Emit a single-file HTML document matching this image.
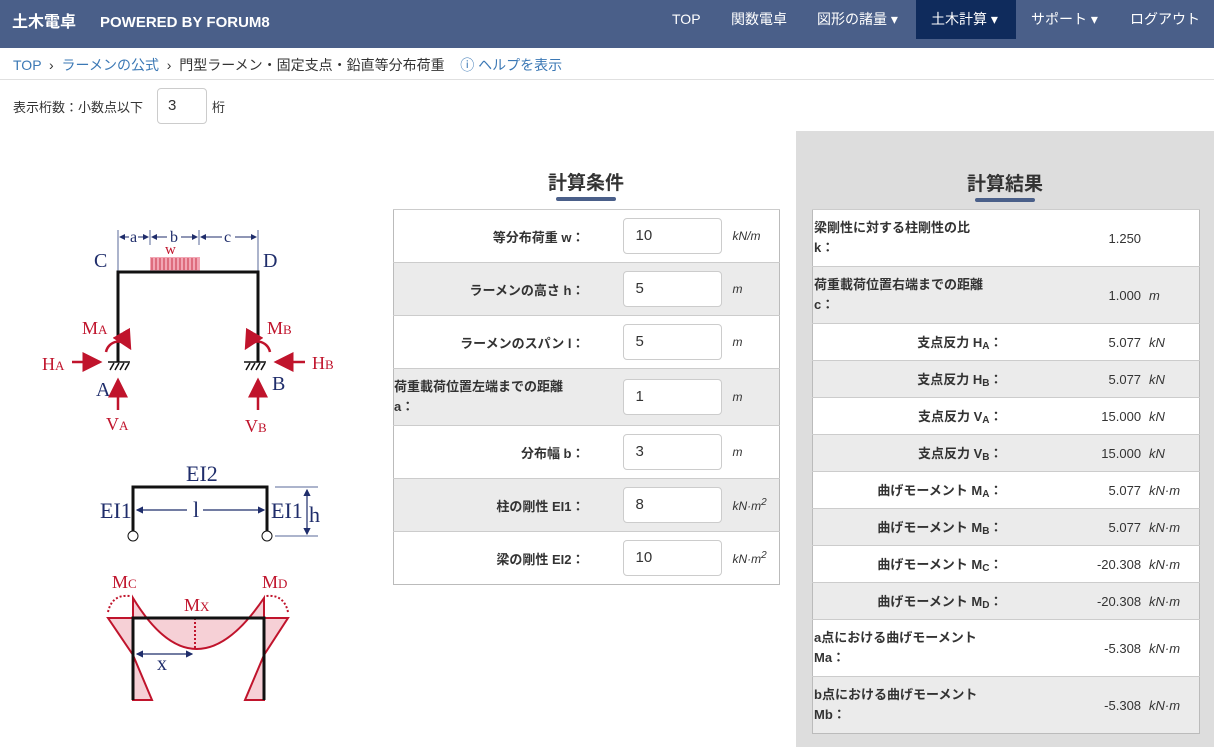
<!DOCTYPE html>
<html><head><meta charset="utf-8">
<style>
*{box-sizing:border-box;margin:0;padding:0}
body{width:1214px;height:747px;overflow:hidden;background:#fff;font-family:"Liberation Sans","Noto Sans CJK JP",sans-serif;color:#333;position:relative;font-size:14px}
.nav{position:absolute;left:0;top:0;width:1214px;height:48px;background:#4a5f89;color:#fff}
.nav span{position:absolute;top:0;line-height:38px;font-size:14px}
.brand{font-weight:bold;font-size:16px!important}
.bc{position:absolute;top:55px;left:13px;font-size:14px;color:#333}
.bc a{color:#3b78b5}
.hr{position:absolute;left:0;top:79px;width:1214px;height:1px;background:#e0e0e0}
.gray{position:absolute;left:796px;top:131px;width:418px;height:616px;background:#ddd}
.h2{position:absolute;font-size:19px;font-weight:bold;color:#333;text-align:center;width:120px}
.ul{position:absolute;height:4px;width:60px;background:#4a5f89;border-radius:2px}
table{position:absolute;border-collapse:collapse;font-size:13px}
td{border-top:1px solid #ccc;padding:0}
.t1{left:393px;top:209px;width:387px;border:1px solid #bbb}
.t1 td.l{text-align:right;font-weight:bold;padding-right:38px;width:229px}
.t1 td.i{width:110px}
.t1 .box{width:99px;height:36px;border:1px solid #ccc;border-radius:4px;background:#fff;padding-left:12px;line-height:34px;font-size:15px}
.t1 td.u{font-style:italic;font-size:12px;padding-left:0}
.g td{background:#ebebeb}
.t2{left:812px;top:209px;width:388px;border:1px solid #bbb;background:#fff}
.t2 td.l{font-weight:bold;width:198px;text-align:right;padding-right:8px}
.t2 td.v{text-align:right;width:132px;padding-right:8px}
.t2 td.u{font-style:italic}
.t2 td.ll{text-align:left;padding-left:1px;line-height:20px}
sub{font-size:10px;vertical-align:-2px}
</style></head><body>
<div class="nav">
<span class="brand" style="left:12px;top:4px">土木電卓</span>
<span class="brand" style="left:100px;top:4px;font-size:15px!important">POWERED BY FORUM8</span>
<span style="left:672px">TOP</span>
<span style="left:731px">関数電卓</span>
<span style="left:817px">図形の諸量 ▾</span>
<div style="position:absolute;left:916px;top:0;width:100px;height:39px;background:#0f2b5c"></div>
<span style="left:931px">土木計算 ▾</span>
<span style="left:1031px">サポート ▾</span>
<span style="left:1130px">ログアウト</span>
</div>
<div class="bc"><a>TOP</a> &nbsp;›&nbsp; <a>ラーメンの公式</a> &nbsp;›&nbsp; 門型ラーメン・固定支点・鉛直等分布荷重 &nbsp;&nbsp; <a>ⓘ ヘルプを表示</a></div>
<div class="hr"></div>
<div style="position:absolute;left:13px;top:97px;font-size:13px">表示桁数：小数点以下</div>
<div style="position:absolute;left:157px;top:88px;width:50px;height:36px;border:1px solid #ccc;border-radius:4px;padding-left:10px;line-height:34px;font-size:15px">3</div>
<div style="position:absolute;left:212px;top:97px;font-size:13px">桁</div>
<div class="gray"></div>

<div class="h2" style="left:526px;top:168px">計算条件</div><div class="ul" style="left:556px;top:197px"></div>
<div class="h2" style="left:945px;top:169px">計算結果</div><div class="ul" style="left:975px;top:198px"></div>

<table class="t1">
<tr style="height:53px"><td class="l">等分布荷重 w：</td><td class="i"><div class="box">10</div></td><td class="u">kN/m</td></tr>
<tr class="g" style="height:53px"><td class="l">ラーメンの高さ h：</td><td class="i"><div class="box">5</div></td><td class="u">m</td></tr>
<tr style="height:53px"><td class="l">ラーメンのスパン l：</td><td class="i"><div class="box">5</div></td><td class="u">m</td></tr>
<tr class="g" style="height:57px"><td class="l" style="text-align:left;padding-left:0;line-height:20px">荷重載荷位置左端までの距離<br>a：</td><td class="i"><div class="box">1</div></td><td class="u">m</td></tr>
<tr style="height:53px"><td class="l">分布幅 b：</td><td class="i"><div class="box">3</div></td><td class="u">m</td></tr>
<tr class="g" style="height:53px"><td class="l">柱の剛性 EI1：</td><td class="i"><div class="box">8</div></td><td class="u">kN·m<sup>2</sup></td></tr>
<tr style="height:53px"><td class="l">梁の剛性 EI2：</td><td class="i"><div class="box">10</div></td><td class="u">kN·m<sup>2</sup></td></tr>
</table>

<table class="t2">
<tr style="height:57px"><td class="l ll">梁剛性に対する柱剛性の比<br>k：</td><td class="v" style="text-align:left;padding-left:98px">1.250</td><td class="u"></td></tr>
<tr class="g" style="height:57px"><td class="l ll">荷重載荷位置右端までの距離<br>c：</td><td class="v">1.000</td><td class="u">m</td></tr>
<tr style="height:37px"><td class="l">支点反力 H<sub>A</sub>：</td><td class="v">5.077</td><td class="u">kN</td></tr>
<tr class="g" style="height:37px"><td class="l">支点反力 H<sub>B</sub>：</td><td class="v">5.077</td><td class="u">kN</td></tr>
<tr style="height:37px"><td class="l">支点反力 V<sub>A</sub>：</td><td class="v">15.000</td><td class="u">kN</td></tr>
<tr class="g" style="height:37px"><td class="l">支点反力 V<sub>B</sub>：</td><td class="v">15.000</td><td class="u">kN</td></tr>
<tr style="height:37px"><td class="l">曲げモーメント M<sub>A</sub>：</td><td class="v">5.077</td><td class="u">kN·m</td></tr>
<tr class="g" style="height:37px"><td class="l">曲げモーメント M<sub>B</sub>：</td><td class="v">5.077</td><td class="u">kN·m</td></tr>
<tr style="height:37px"><td class="l">曲げモーメント M<sub>C</sub>：</td><td class="v">-20.308</td><td class="u">kN·m</td></tr>
<tr class="g" style="height:37px"><td class="l">曲げモーメント M<sub>D</sub>：</td><td class="v">-20.308</td><td class="u">kN·m</td></tr>
<tr style="height:57px"><td class="l ll">a点における曲げモーメント<br>Ma：</td><td class="v">-5.308</td><td class="u">kN·m</td></tr>
<tr class="g" style="height:57px"><td class="l ll">b点における曲げモーメント<br>Mb：</td><td class="v">-5.308</td><td class="u">kN·m</td></tr>
</table>

<svg style="position:absolute;left:0;top:0" width="390" height="747" font-family="Liberation Serif,serif">
<defs>
<marker id="ar" markerWidth="8" markerHeight="8" refX="7" refY="4" orient="auto"><path d="M0,0L8,4L0,8z" fill="#c0142c"/></marker>
<marker id="ab" markerWidth="6" markerHeight="6" refX="5" refY="3" orient="auto"><path d="M0,0L6,3L0,6z" fill="#1f2d6b"/></marker>
<marker id="abs" markerWidth="6" markerHeight="6" refX="1" refY="3" orient="auto"><path d="M6,0L0,3L6,6z" fill="#1f2d6b"/></marker>
</defs>
<g stroke="#5a6a9a" stroke-width="1"><line x1="118" y1="230" x2="118" y2="272"/><line x1="150" y1="230" x2="150" y2="245"/><line x1="199" y1="230" x2="199" y2="245"/><line x1="258" y1="230" x2="258" y2="272"/></g>
<g stroke="#1f2d6b" stroke-width="1"><line x1="120" y1="237" x2="129" y2="237" marker-start="url(#abs)"/><line x1="138" y1="237" x2="148" y2="237" marker-end="url(#ab)"/>
<line x1="152" y1="237" x2="167" y2="237" marker-start="url(#abs)"/><line x1="181" y1="237" x2="197" y2="237" marker-end="url(#ab)"/>
<line x1="201" y1="237" x2="222" y2="237" marker-start="url(#abs)"/><line x1="235" y1="237" x2="256" y2="237" marker-end="url(#ab)"/></g>
<g fill="#1f2d6b" font-size="16"><text x="130" y="242">a</text><text x="170" y="242">b</text><text x="224" y="242">c</text>
<text x="94" y="267" font-size="20">C</text><text x="263" y="267" font-size="20">D</text>
<text x="96" y="396" font-size="20">A</text><text x="272" y="390" font-size="20">B</text></g>
<text x="165" y="254" fill="#c0142c" font-size="15">w</text>
<rect x="150" y="257" width="50" height="14" fill="#f2a6b4"/>
<path d="M152,258v12M156,258v12M160,258v12M164,258v12M168,258v12M172,258v12M176,258v12M180,258v12M184,258v12M188,258v12M192,258v12M196,258v12" stroke="#c0142c" stroke-width="0.8"/>
<path d="M118,362V272H258V362" fill="none" stroke="#111" stroke-width="3"/>
<g stroke="#111" stroke-width="1.5"><line x1="108" y1="362" x2="130" y2="362"/><line x1="244" y1="362" x2="266" y2="362"/>
<path d="M110,370l4,-7M115,370l4,-7M120,370l4,-7M125,370l4,-7M246,370l4,-7M251,370l4,-7M256,370l4,-7M261,370l4,-7"/></g>
<g fill="#c0142c" font-size="18"><text x="82" y="334">M<tspan font-size="13">A</tspan></text><text x="267" y="334">M<tspan font-size="13">B</tspan></text>
<text x="42" y="370">H<tspan font-size="13">A</tspan></text><text x="312" y="369">H<tspan font-size="13">B</tspan></text>
<text x="106" y="430">V<tspan font-size="13">A</tspan></text><text x="245" y="432">V<tspan font-size="13">B</tspan></text></g>
<g stroke="#c0142c" stroke-width="2.5" fill="none">
<path d="M106,352a13,13 0 0 1 24,-4" marker-end="url(#ar)"/><path d="M270,352a13,13 0 0 0 -24,-4" marker-end="url(#ar)"/>
<line x1="72" y1="362" x2="100" y2="362" marker-end="url(#ar)"/><line x1="305" y1="362" x2="276" y2="362" marker-end="url(#ar)"/>
<line x1="118" y1="410" x2="118" y2="380" marker-end="url(#ar)"/><line x1="258" y1="410" x2="258" y2="380" marker-end="url(#ar)"/></g>
<path d="M133,531V487H267V531" fill="none" stroke="#111" stroke-width="3"/>
<circle cx="133" cy="536" r="5" fill="#fff" stroke="#111"/><circle cx="267" cy="536" r="5" fill="#fff" stroke="#111"/>
<g fill="#1f2d6b" font-size="22"><text x="186" y="481">EI2</text><text x="100" y="518">EI1</text><text x="271" y="518">EI1</text><text x="309" y="522">h</text><text x="193" y="517">l</text></g>
<g stroke="#1f2d6b" stroke-width="1.2"><line x1="137" y1="510" x2="187" y2="510" marker-start="url(#abs)"/><line x1="203" y1="510" x2="264" y2="510" marker-end="url(#ab)"/>
<line x1="307" y1="490" x2="307" y2="534" marker-start="url(#abs)" marker-end="url(#ab)"/></g>
<g stroke="#5a6a9a"><line x1="275" y1="487" x2="318" y2="487"/><line x1="275" y1="536" x2="318" y2="536"/></g>
<g fill="#c0142c" font-size="18"><text x="112" y="588">M<tspan font-size="13">C</tspan></text><text x="262" y="588">M<tspan font-size="13">D</tspan></text><text x="184" y="611">M<tspan font-size="13">X</tspan></text></g>
<text x="157" y="670" fill="#1f2d6b" font-size="20">x</text>
<line x1="137" y1="654" x2="192" y2="654" stroke="#1f2d6b" stroke-width="1.2" marker-start="url(#abs)" marker-end="url(#ab)"/>
<g fill="#f6d0d6" stroke="#c0142c" stroke-width="2">
<path d="M108,618H133V655Z"/><path d="M133,655L152,700H133Z"/>
<path d="M288,618H264V655Z"/><path d="M264,655L245,700H264Z"/>
<path d="M133,598Q195,700 264,598V618H133Z"/>
</g>
<g stroke="#c0142c" stroke-width="2" stroke-dasharray="2,2" fill="none"><path d="M108,612q4,-18 22,-16"/><path d="M288,612q-4,-18 -22,-16"/><line x1="195" y1="618" x2="195" y2="650"/></g>
<path d="M133,700V618H264V700" fill="none" stroke="#111" stroke-width="3"/>
</svg>
</body></html>
